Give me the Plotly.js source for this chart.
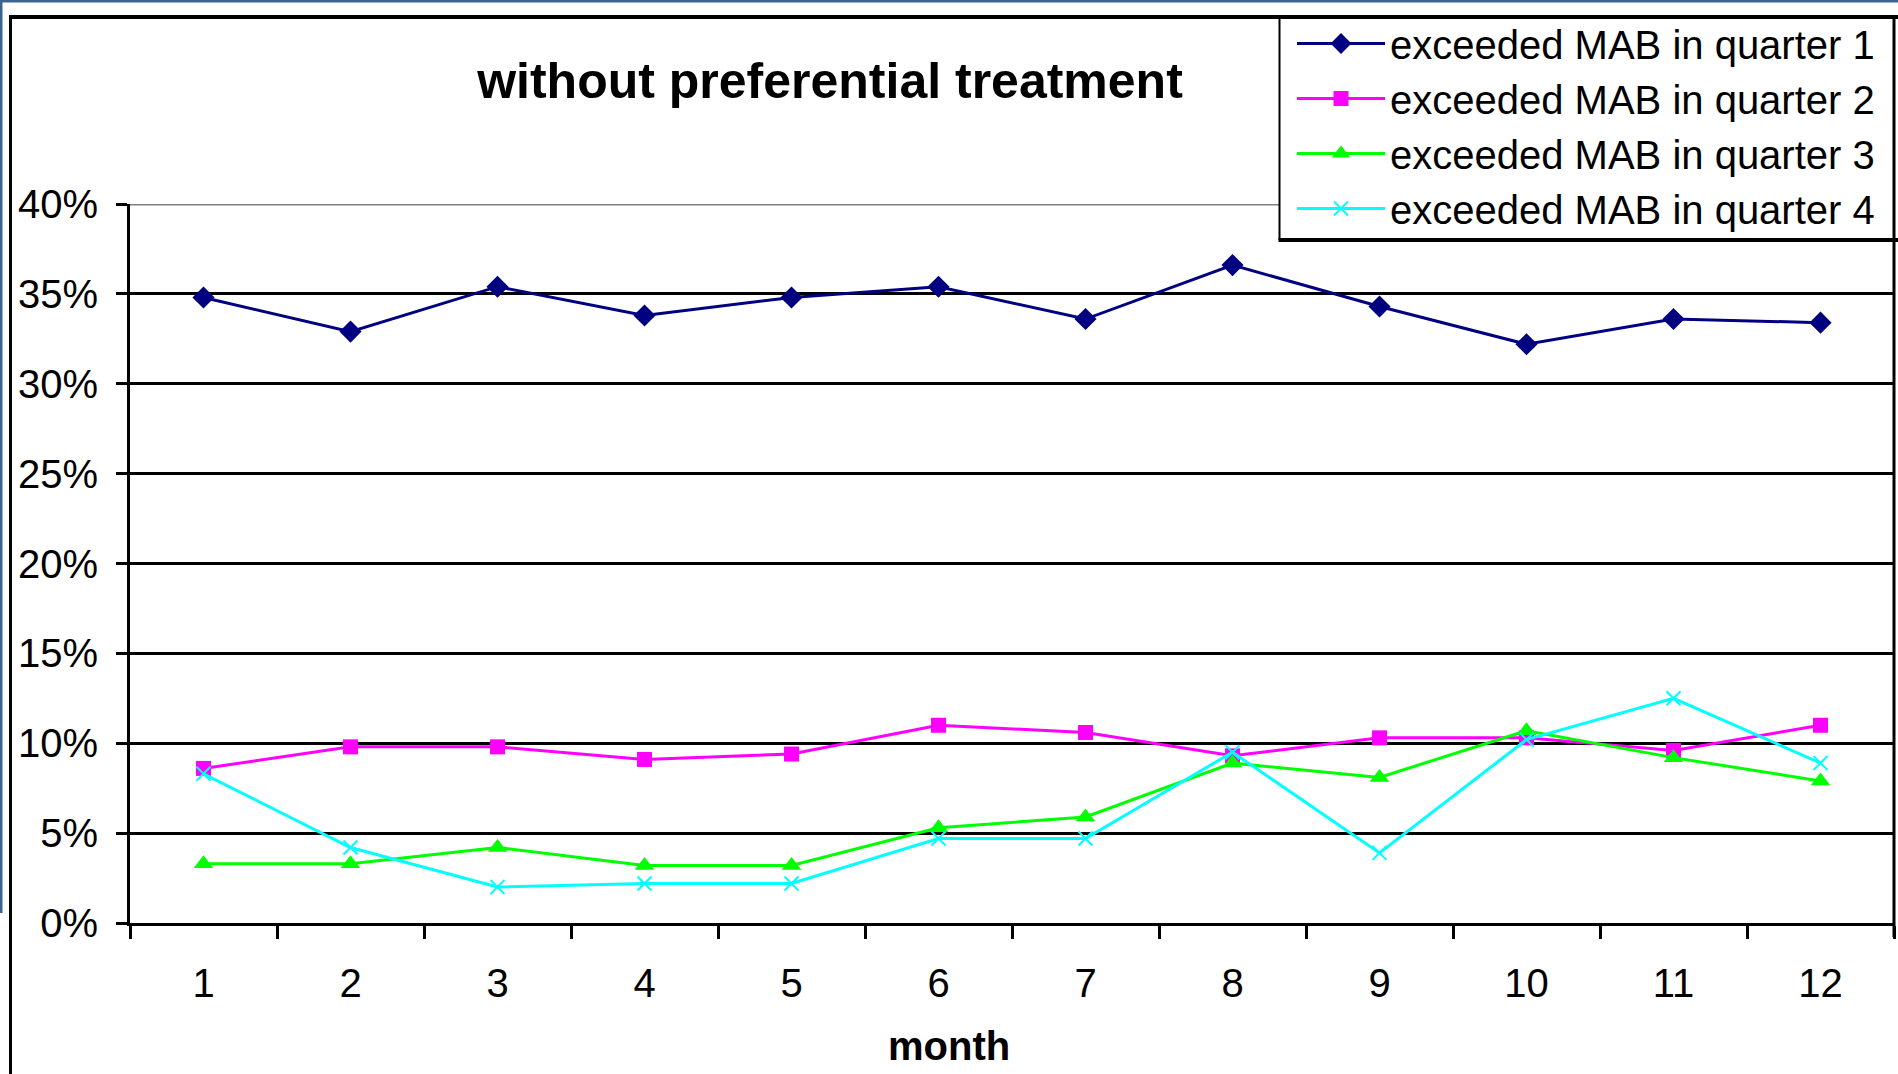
<!DOCTYPE html>
<html>
<head>
<meta charset="utf-8">
<script src="https://cdn.plot.ly/plotly-3.0.1.min.js"></script>
<style>
  html, body { margin: 0; padding: 0; background: #ffffff; }
  #chart { width: 1898px; height: 1074px; }
</style>
</head>
<body>
<div id="chart"></div>
<script>
// Share of cases that exceeded the MAB, by month, one series per quarter
const months = ['1', '2', '3', '4', '5', '6', '7', '8', '9', '10', '11', '12'];
const quarter1 = [0.348, 0.329, 0.354, 0.338, 0.348, 0.354, 0.336, 0.366, 0.343, 0.322, 0.336, 0.334];
const quarter2 = [0.086, 0.098, 0.098, 0.091, 0.094, 0.110, 0.106, 0.093, 0.103, 0.103, 0.096, 0.110];
const quarter3 = [0.033, 0.033, 0.042, 0.032, 0.032, 0.053, 0.059, 0.089, 0.081, 0.107, 0.092, 0.079];
const quarter4 = [0.083, 0.042, 0.020, 0.022, 0.022, 0.047, 0.047, 0.095, 0.039, 0.102, 0.125, 0.089];
const seriesNames = [
  'exceeded MAB in quarter 1',
  'exceeded MAB in quarter 2',
  'exceeded MAB in quarter 3',
  'exceeded MAB in quarter 4'
];

const FONT = 'Liberation Sans, Arial, Helvetica, sans-serif';

const styles = [
  { color: '#000080', symbol: 'diamond', size: 17 },
  { color: '#ff00ff', symbol: 'square', size: 15 },
  { color: '#00ff00', symbol: 'triangle-up', size: 17 },
  { color: '#00ffff', symbol: 'x-thin', size: 14 }
];

const values = [quarter1, quarter2, quarter3, quarter4];

const traces = values.map((ys, i) => ({
  type: 'scatter',
  mode: 'lines+markers',
  name: seriesNames[i],
  x: months,
  y: ys,
  line: { color: styles[i].color, width: 3 },
  marker: {
    symbol: styles[i].symbol,
    size: styles[i].size,
    color: styles[i].color,
    line: { color: styles[i].color, width: styles[i].symbol === 'x-thin' ? 2 : 0 }
  }
}));

// plot-area geometry in pixels, used to place the frame decorations
const L = 130, R = 4, T = 204, B = 151;
const W = 1898 - L - R, H = 1074 - T - B;
const px = v => (v - L) / W;          // page x -> paper x
const py = v => (1074 - B - v) / H;   // page y -> paper y

const shapes = [
  // outer blue frame edges
  { type: 'line', xref: 'paper', yref: 'paper', x0: px(0), x1: px(1898), y0: py(1), y1: py(1),
    line: { color: '#3d6491', width: 3 } },
  { type: 'line', xref: 'paper', yref: 'paper', x0: px(1), x1: px(1), y0: py(0), y1: py(913),
    line: { color: '#3d6491', width: 3 } },
  // top border of the plot area
  { type: 'line', xref: 'paper', yref: 'y', x0: 0, x1: 1, y0: 0.4, y1: 0.4,
    line: { color: '#808080', width: 3 } },
  // legend box
  { type: 'rect', layer: 'above', xref: 'paper', yref: 'paper',
    x0: px(1279.5), x1: px(1905), y0: py(17), y1: py(239),
    fillcolor: '#ffffff', line: { color: '#000000', width: 2 } },
  { type: 'line', layer: 'above', xref: 'paper', yref: 'paper', x0: px(1278.5), x1: px(1898), y0: py(240), y1: py(240),
    line: { color: '#000000', width: 4 } },
  // chart border
  { type: 'line', layer: 'above', xref: 'paper', yref: 'paper', x0: px(9), x1: px(1898), y0: py(17), y1: py(17),
    line: { color: '#000000', width: 4 } },
  { type: 'line', layer: 'above', xref: 'paper', yref: 'paper', x0: px(10.5), x1: px(10.5), y0: py(15), y1: py(1074),
    line: { color: '#000000', width: 3 } },
  // right edge of the plot area
  { type: 'line', layer: 'above', xref: 'paper', yref: 'paper', x0: 1, x1: 1, y0: py(937), y1: py(15),
    line: { color: '#000000', width: 3 } }
];

const layout = {
  width: 1898,
  height: 1074,
  margin: { l: L, r: R, t: T, b: B, pad: 0 },
  paper_bgcolor: '#ffffff',
  plot_bgcolor: '#ffffff',
  font: { family: FONT, color: '#000000', size: 40 },
  title: {
    text: 'without preferential treatment',
    font: { family: FONT, size: 50, color: '#000000', weight: 'bold' },
    xref: 'paper', x: px(830), xanchor: 'center',
    yref: 'container', y: 1 - 80 / 1074, yanchor: 'middle'
  },
  xaxis: {
    type: 'category',
    range: [-0.5, 11.5],
    showline: true, linecolor: '#000000', linewidth: 3,
    showgrid: false, zeroline: false,
    ticks: 'outside', tickson: 'boundaries', ticklen: 13, tickwidth: 3, tickcolor: '#000000',
    ticklabelstandoff: 23,
    tickfont: { family: FONT, size: 40, color: '#000000' }
  },
  yaxis: {
    range: [0, 0.4],
    dtick: 0.05,
    tickformat: '.0%',
    showline: true, linecolor: '#000000', linewidth: 3,
    showgrid: true, gridcolor: '#000000', gridwidth: 3,
    zeroline: false,
    ticks: 'outside', ticklen: 11, tickwidth: 3, tickcolor: '#000000',
    ticklabelstandoff: 10,
    tickfont: { family: FONT, size: 40, color: '#000000' }
  },
  annotations: [
    { text: 'month', xref: 'paper', yref: 'paper', x: px(949), y: py(1046), xanchor: 'center', yanchor: 'middle',
      showarrow: false, font: { family: FONT, size: 40, color: '#000000', weight: 'bold' } }
  ],
  shapes: shapes,
  showlegend: true,
  legend: {
    x: px(1292), xanchor: 'left',
    y: py(11), yanchor: 'top',
    bgcolor: 'rgba(0,0,0,0)', borderwidth: 0,
    font: { family: FONT, size: 40, color: '#000000' },
    itemwidth: 88,
    tracegroupgap: 0
  }
};

Plotly.newPlot('chart', traces, layout, { staticPlot: true, displayModeBar: false });
</script>
</body>
</html>
